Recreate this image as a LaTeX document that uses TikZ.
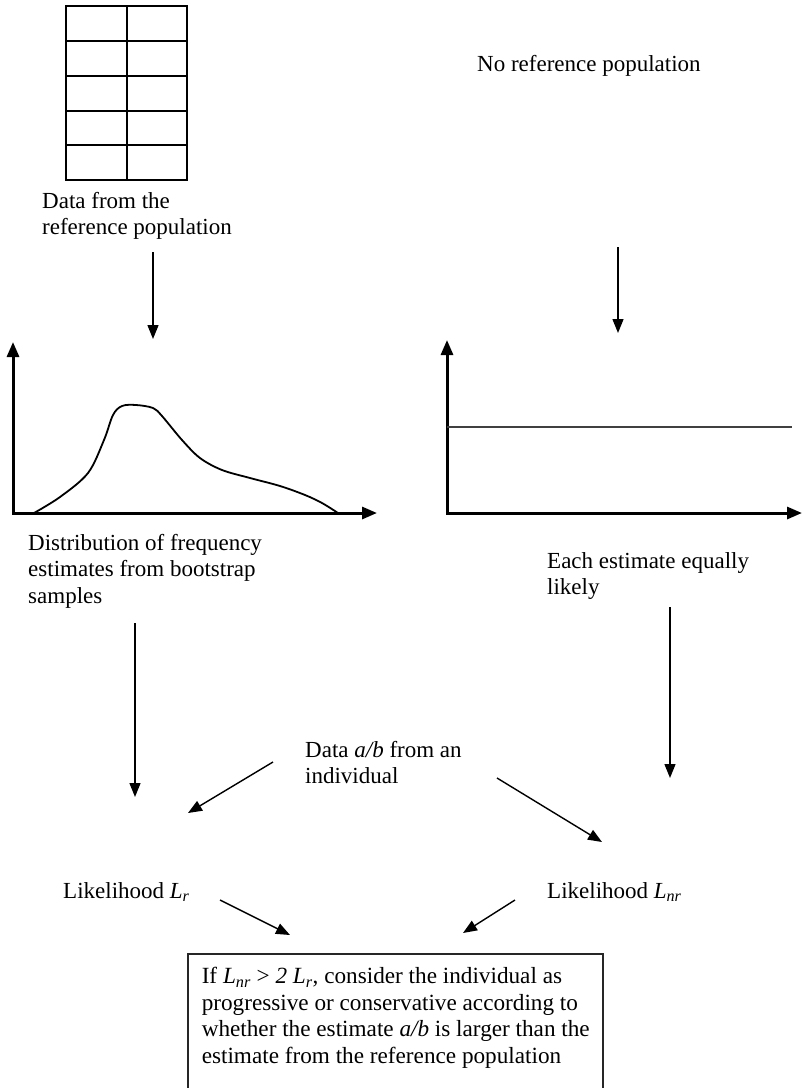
\documentclass[tikz,border=0pt]{standalone}
\usepackage{fontspec}
\setmainfont{Liberation Serif}
\usetikzlibrary{arrows.meta}
\newcommand{\Lsub}[1]{\textit{L}\textsubscript{\textit{#1}}}
\begin{document}
\begin{tikzpicture}[x=1pt,y=-1pt,
  lbl/.style={anchor=north west, inner sep=0pt, align=left, font=\fontsize{23}{26.5}\selectfont},
  flow/.style={-{Triangle[length=14pt,width=11pt]}, line width=1.4pt},
  axis/.style={{Triangle[length=15pt,width=12pt]}-{Triangle[length=15pt,width=12pt]}, line width=3pt, line join=miter},
  gridline/.style={line width=1.6pt},
  curve/.style={line width=1.8pt, line join=round},
  level/.style={line width=1.5pt, black!75},
  boxstyle/.style={draw, line width=1.5pt, black!85, text=black, anchor=north west, inner xsep=14pt, inner ysep=13.5pt, font=\fontsize{23.2}{26.5}\selectfont}]
\useasboundingbox (0,0) rectangle (803,1088);
\clip (0,0) rectangle (803,1088);

% table of reference data
\draw[gridline] (66,6) rectangle (187,180);
\draw[gridline] (127,6) -- (127,180);
\foreach \yy in {41,76,111,145} \draw[gridline] (66,\yy) -- (187,\yy);

% labels
\node[lbl] (refdata) at (42,192) {Data from the\\reference population};
\node[lbl] (noref) at (477,55) {No reference population};
\node[lbl] (distr) at (28,534) {Distribution of frequency\\estimates from bootstrap\\samples};
\node[lbl] (equal) at (547,552) {Each estimate equally\\likely};
\node[lbl] (indiv) at (305,741) {Data \textit{a/b} from an\\individual};
\node[lbl] (lr) at (63,882) {Likelihood \Lsub{r}};
\node[lbl] (lnr) at (547,882) {Likelihood \Lsub{nr}};
\node[boxstyle] (decision) at (187,953) {\parbox[t][200pt][t]{387pt}{\raggedright
\mbox{If \Lsub{nr} > \textit{2} \Lsub{r}, consider the individual as}\\
\mbox{progressive or conservative according to}\\
\mbox{whether the estimate \textit{a/b} is larger than the}\\
\mbox{estimate from the reference population}}};

% left graph
\coordinate (lo) at (13,513);
\coordinate (ly) at (13,342);
\coordinate (lx) at (377,513);
\draw[axis] (ly) -- (lo) -- (lx);
\draw[curve] plot[smooth, tension=0.55] coordinates {(34,513) (60,497) (88,473) (104,440) (113,415) (122,406) (136,405) (153,408) (162,416) (182,440) (200,458) (222,470) (250,478) (280,486) (305,495) (322,503) (338,513)};

% right graph
\coordinate (ro) at (447,513);
\coordinate (ry) at (447,340);
\coordinate (rx) at (802,513);
\coordinate (lvA) at (447,427);
\coordinate (lvB) at (792,427);
\draw[axis] (ry) -- (ro) -- (rx);
\draw[level] (lvA) -- (lvB);

% connector end points
\coordinate (a1s) at (153,252); \coordinate (a1e) at (153,339);
\coordinate (a2s) at (618,247); \coordinate (a2e) at (618,333);
\coordinate (a3s) at (135,623); \coordinate (a3e) at (135,797);
\coordinate (a4s) at (670,607); \coordinate (a4e) at (670,778);
\coordinate (a5s) at (273,762); \coordinate (a5e) at (188,813);
\coordinate (a6s) at (497,778); \coordinate (a6e) at (602,842);
\coordinate (a7s) at (220,900); \coordinate (a7e) at (290,935);
\coordinate (a8s) at (515,900); \coordinate (a8e) at (463,933);

\draw[flow] (a1s) -- (a1e);
\draw[flow] (a2s) -- (a2e);
\draw[flow] (a3s) -- (a3e);
\draw[flow] (a4s) -- (a4e);
\draw[flow] (a5s) -- (a5e);
\draw[flow] (a6s) -- (a6e);
\draw[flow] (a7s) -- (a7e);
\draw[flow] (a8s) -- (a8e);
\end{tikzpicture}
\end{document}
